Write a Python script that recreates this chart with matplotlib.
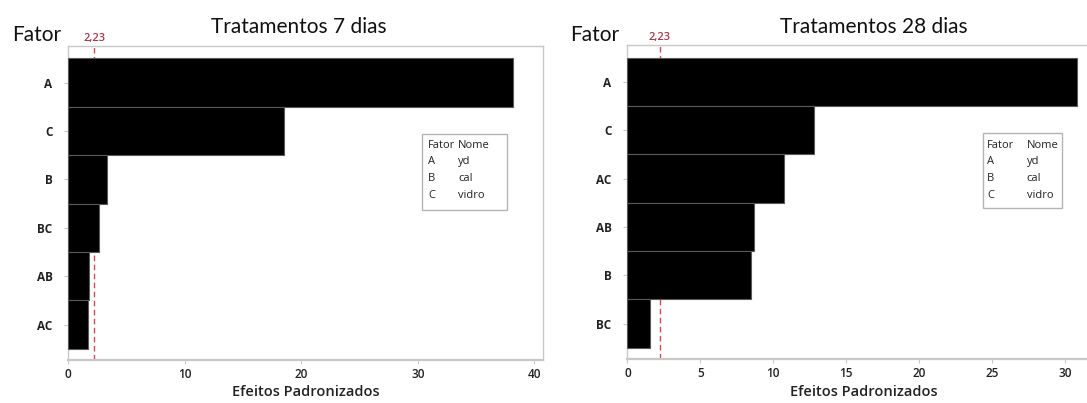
import numpy as np
import matplotlib.pyplot as plt
from matplotlib.patches import Rectangle

# standardized effects (Pareto), ordered from top to bottom
fatores_7 = ["A", "C", "B", "BC", "AB", "AC"]
efeitos_7 = [38.2, 18.5, 3.35, 2.63, 1.82, 1.70]

fatores_28 = ["A", "C", "AC", "AB", "B", "BC"]
efeitos_28 = [30.8, 12.8, 10.7, 8.7, 8.5, 1.56]

limite = 2.23
legenda_fator = ["A", "B", "C"]
legenda_nome = ["yd", "cal", "vidro"]

W, H = 1087, 403
plt.rcParams['font.family'] = ['Open Sans', 'DejaVu Sans']

fig = plt.figure(figsize=(W / 100, H / 100), dpi=100)


def fx(x):
    return x / W


def fy(y):
    return 1 - y / H


def pareto(box, fatores, efeitos, xmax, xticks, titulo, tit_x, fator_x, leg_box, xlab_x):
    left, top, right, bottom = box
    ax = fig.add_axes([fx(left), fy(bottom), fx(right - left), (bottom - top) / H])
    y = np.arange(len(fatores))
    ax.barh(y, efeitos, height=1.0, color="black", edgecolor="#5a5a5a",
            linewidth=0.8, zorder=3)
    ax.axvline(limite, color="#d04a55", linestyle=(0, (4, 2.5)), linewidth=1.0, zorder=2)
    ax.set_ylim(5.73, -0.76)
    ax.set_xlim(-0.05, xmax)
    ax.set_yticks(y)
    ax.set_yticklabels(fatores, fontsize=8.5, fontweight="bold", color="#222222")
    ax.set_xticks(xticks)
    ax.set_xticklabels([str(t) for t in xticks], fontsize=8.5, fontweight="semibold",
                       color="#222222")
    ax.tick_params(axis="both", length=3, width=0.8, color="#c8c8c8", pad=3)
    ax.tick_params(axis="y", pad=8)
    for s in ax.spines.values():
        s.set_color("#c8c8c8")
        s.set_linewidth(1.0)
    ax.spines["bottom"].set_linewidth(1.6)

    # critical value label over the dashed line
    ax.annotate("2,23", xy=(limite, 1.0), xycoords=("data", "axes fraction"),
                xytext=(0, 3.5), textcoords="offset points", ha="center",
                va="baseline", fontsize=8, fontweight="semibold", color="#a23a4c")

    fig.text(fx(xlab_x), fy(392), "Efeitos Padronizados", ha="center", va="center",
             fontsize=10.5, fontweight="semibold", color="#222222")
    fig.text(fx(tit_x), fy(33), titulo, ha="center", va="baseline",
             fontsize=15, family=["Lato", "DejaVu Sans"], color="#111111")
    fig.text(fx(fator_x), fy(40.7), "Fator", ha="left", va="baseline",
             fontsize=15, family=["Lato", "DejaVu Sans"], color="#111111")

    # factor / name table
    bx0, by0, bx1, by1, c1, c2 = leg_box
    fig.patches.append(Rectangle((fx(bx0), fy(by1)), fx(bx1 - bx0), (by1 - by0) / H,
                                 transform=fig.transFigure, facecolor="white",
                                 edgecolor="#b4b4b4", linewidth=1.0, zorder=5))
    linhas = [("Fator", "Nome")] + list(zip(legenda_fator, legenda_nome))
    for i, (f, n) in enumerate(linhas):
        yy = 145 + i * 16.7
        fig.text(fx(c1), fy(yy), f, ha="left", va="center", fontsize=8,
                 color="#222222", zorder=6)
        fig.text(fx(c2), fy(yy), n, ha="left", va="center", fontsize=8,
                 color="#222222", zorder=6)
    return ax


pareto((67.7, 45.7, 543.3, 360), fatores_7, efeitos_7, 40.77, [0, 10, 20, 30, 40],
       "Tratamentos 7 dias", 299, 12, (422.3, 134, 506.7, 210, 428.3, 458.3), 306)
pareto((626.7, 45.0, 1094.2, 359), fatores_28, efeitos_28, 32.0,
       [0, 5, 10, 15, 20, 25, 30], "Tratamentos 28 dias", 873.5, 570,
       (982.7, 133.3, 1061.7, 208.3, 987.3, 1026.7), 864)

fig.savefig("out.png", dpi=100, facecolor="white")
